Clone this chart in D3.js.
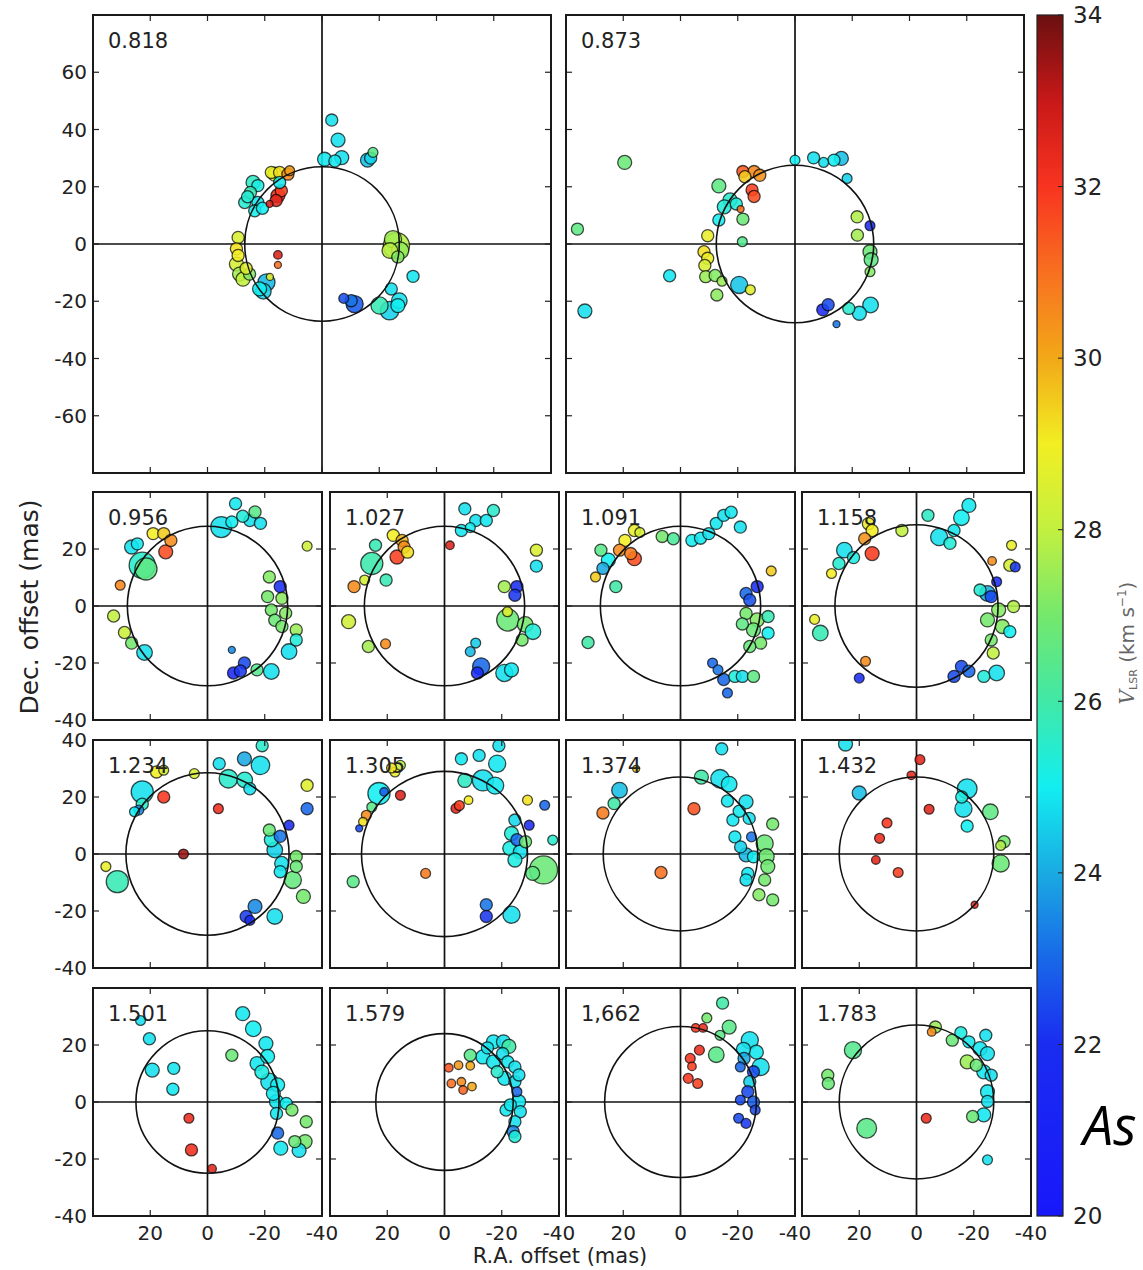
<!DOCTYPE html>
<html>
<head>
<meta charset="utf-8">
<script src="https://cdn.jsdelivr.net/npm/d3@7"></script>
<style>
  body { margin: 0; background: #fff; }
  svg { display: block; font-family: "DejaVu Sans", sans-serif; }
</style>
</head>
<body>
<svg id="chart" width="1143" height="1270"></svg>
<script>
// epoch labels, one panel each
const epochs = ["0.818", "0.873", "0.956", "1.027", "1.091", "1.158", "1.234", "1.305",
                "1.374", "1.432", "1.501", "1.579", "1,662", "1.783"];
// radius of the fitted ring (mas) for each epoch
const ringRadius = [27, 27.5, 28, 28, 28, 28.5, 28.5, 29, 27, 27, 25, 24, 26.5, 27];

// colour bar (V_LSR, km/s)
const velStops = [20, 22, 23, 24, 25, 26, 27, 28, 29, 30, 31, 32, 33, 34];
const velColors = ["#1818fa", "#1a2cf0", "#1868e8", "#1aaae2", "#12eef0", "#40e8a6", "#74e86c",
                   "#c2f040", "#f2ee22", "#f2a818", "#f87020", "#f83420", "#c81818", "#6a1010"];
const colorTicks = [20, 22, 24, 26, 28, 30, 32, 34];

// tick labels
const bigTicks = [60, 40, 20, 0, -20, -40, -60];
const rowTickLabels = [[20, 0, -20, -40], [40, 20, 0, -20, -40], [20, 0, -20, -40]];
const xTickLabels = [20, 0, -20, -40];

// spots: [R.A. offset, Dec. offset, V_LSR, relative flux]
const spots0818 = [
  [-3.4, 43.3, 24.8, 3], [-5.6, 36.3, 24.8, 4], [-6.9, 30.2, 24.8, 4], [-4.5, 29.0, 24.9, 3],
  [-0.9, 29.6, 24.9, 4], [-15.9, 29.3, 24.3, 4], [-17.8, 32.0, 26.5, 2], [-17, 30, 24.6, 3],
  [16.5, 24.4, 29.0, 4], [17.7, 25.0, 28.8, 3], [14.8, 25.0, 29.2, 3], [11.9, 24.4, 30.6, 3],
  [11.3, 25.6, 30.2, 2], [24.1, 21.5, 25.6, 4], [22.4, 20.4, 25.2, 3], [27.0, 14.5, 25.4, 3],
  [22.4, 14.5, 24.9, 3], [23.5, 11.6, 25.1, 3], [25, 18, 25.8, 3], [15.4, 16.9, 32.3, 4],
  [14.2, 18.6, 31.8, 3], [16.0, 15.2, 32.5, 3], [18.3, 14.0, 32.8, 1], [14.8, 21.5, 24.9, 3],
  [29.3, 2.3, 28.5, 3], [29.9, -1.7, 29.2, 3], [29.3, -4, 29.0, 3], [29.9, -7, 28.4, 4],
  [28.8, -10.5, 27.6, 4], [27.6, -12.3, 28.0, 4], [25.3, -10.5, 27.2, 3], [19.4, -13.4, 24.2, 6],
  [21.8, -15.7, 25.0, 4], [18.2, -11.5, 28.8, 1], [15.4, -3.8, 32.6, 1.5], [15.4, -7.3, 31.0, 1],
  [-26, -0.6, 27.8, 14], [-24.8, 1.7, 27.6, 6], [-27.3, -2.3, 27.4, 6], [-23.7, -2.3, 27.9, 5],
  [-26.5, -4.5, 27.2, 3], [-31.8, -11.3, 24.9, 3], [-7.6, -19, 22.6, 2], [-11.4, -21, 22.8, 6],
  [-10.2, -19.8, 23.2, 3], [-24.2, -15.7, 24.8, 3], [-20.1, -21.5, 25.8, 6], [-23.6, -23.3, 24.6, 7],
  [-27.0, -19.8, 24.8, 5], [-26.5, -21.5, 25.0, 4], [26.5, -8.5, 28.6, 3], [20.5, -16.5, 24.6, 5],
  [26.0, 16.5, 25.4, 3], [20.8, 12.5, 25.0, 3]
];
const spots0873 = [
  [59.5, 28.5, 26.8, 4], [76, 5.2, 26.6, 3], [73.4, -23.4, 24.8, 4], [43.8, -11.1, 24.9, 3],
  [26.6, 20.3, 26.6, 4], [18.2, 25.3, 31.4, 3], [14.3, 25.3, 30.6, 3], [17.5, 23.5, 29.5, 3],
  [12.3, 24, 30.4, 3], [15.0, 18.9, 31.8, 3], [14.3, 16.6, 31.6, 3], [22.7, 15.4, 25.5, 4],
  [24.7, 13, 25.3, 4], [19, 12.2, 31.0, 1], [20.5, 14, 25.3, 3], [26.6, 8.4, 25.0, 3],
  [18.2, 8.7, 26.8, 3], [18.4, 0.8, 26.4, 2], [30.5, 2.9, 28.8, 3], [31.8, -2.7, 29.2, 3],
  [30.5, -5.0, 28.9, 3], [31.5, -7.5, 28.5, 3], [31.2, -11.4, 27.5, 3], [27.9, -11, 27.2, 3],
  [25.5, -13, 27.5, 2], [27.3, -17.8, 27.3, 3], [19.5, -14.3, 24.4, 6], [15.6, -16, 28.6, 2],
  [0, 29.3, 25.0, 2], [-6.5, 30.1, 24.8, 3], [-10, 28.5, 24.8, 2], [-13.6, 29.3, 25.0, 3],
  [-16.2, 29.9, 24.3, 4], [-18.2, 22.9, 24.6, 2], [-21.7, 9.5, 27.8, 3], [-26.2, 6.4, 22.0, 2],
  [-21.8, 3.1, 27.6, 3], [-26.2, -2.7, 26.8, 4], [-26.6, -5.5, 26.6, 4], [-26.2, -9.7, 27.2, 2],
  [-9.7, -23.0, 21.8, 3], [-11.6, -21.2, 22.5, 3], [-18.8, -22.5, 25.5, 3], [-22.5, -24.2, 24.8, 4],
  [-26.4, -21.3, 24.8, 5], [-14.5, -28, 23.2, 1]
];
const spots0956 = [
  [22.8, 14.3, 25.5, 14], [21.5, 13.0, 26.6, 10], [26.5, 20.7, 24.8, 4], [24.5, 21.8, 24.9, 3],
  [19.0, 25.4, 29.0, 3], [15.3, 25.4, 29.5, 3], [12.8, 23.0, 30.5, 3], [14.6, 19.0, 31.6, 4],
  [30.5, 7.3, 30.6, 2], [32.8, -3.5, 28.0, 3], [29.0, -9.3, 28.2, 3], [26.5, -13.0, 27.0, 3],
  [22.0, -16.3, 24.8, 5], [-4.8, 27.7, 24.8, 9], [-9.8, 35.9, 24.9, 3], [-8.5, 29.5, 25.0, 3],
  [-14.8, 30.0, 24.8, 3], [-18.5, 29.0, 24.8, 3], [-16.6, 33.0, 26.5, 3], [-12.3, 31.5, 25.3, 3],
  [-34.8, 21.0, 28.2, 2], [-21.6, 10.2, 27.2, 3], [-25.4, 6.8, 22.0, 3], [-21.0, 3.3, 27.0, 3],
  [-26.0, 2.7, 27.3, 3], [-22.3, -1.4, 27.0, 3], [-27.3, -2.5, 27.2, 3], [-23.5, -5, 26.8, 3],
  [-26.0, -7.2, 27.0, 3], [-31.0, -8.4, 27.5, 3], [-31.0, -11.9, 25.3, 3], [-28.5, -16.0, 24.8, 5],
  [-8.5, -15.4, 23.5, 1], [-12.9, -20.0, 22.5, 3], [-9.1, -23.5, 21.6, 3], [-11.5, -22.8, 22.2, 3],
  [-17.3, -22.4, 26.4, 3], [-22.3, -23.0, 24.8, 5]
];
const spots1027 = [
  [-7.1, 34.1, 24.8, 3], [-5.9, 26.5, 24.9, 3], [-10.9, 30.0, 24.8, 3], [-14.6, 30.0, 24.9, 3],
  [-17.1, 33.5, 25.5, 3], [-9.0, 27.5, 25.0, 2], [-1.9, 21.3, 32.6, 1.5], [17.9, 24.8, 29.0, 3],
  [14.8, 23.0, 29.8, 3], [14.1, 20.7, 30.5, 3], [16.6, 17.2, 31.8, 4], [12.9, 18.9, 29.2, 3],
  [24.1, 21.3, 25.8, 3], [25.4, 14.9, 25.9, 10], [20.4, 9.1, 25.8, 3], [27.9, 9.1, 28.4, 2],
  [31.6, 6.8, 30.5, 3], [33.5, -5.5, 28.3, 4], [26.6, -14.2, 27.6, 3], [20.6, -13.3, 30.5, 2],
  [-32.1, 19.6, 28.5, 3], [-32.1, 14.0, 24.8, 3], [-20.9, 6.8, 27.6, 3], [-25.3, 6.8, 22.0, 3],
  [-24.6, 3.8, 22.2, 3], [-22.1, -4.9, 26.8, 10], [-28.2, -6.5, 27.0, 5], [-30.9, -9.0, 25.3, 5],
  [-27.1, -11.9, 27.0, 3], [-22.0, -2.0, 28.6, 2], [-10.9, -13.0, 24.5, 2], [-9.0, -16.0, 24.2, 2],
  [-12.8, -21.2, 23.0, 6], [-11.5, -23.5, 21.8, 3], [-20.9, -23.5, 24.8, 6], [-23.4, -22.4, 24.9, 4]
];
const spots1091 = [
  [16.1, 26.5, 28.8, 3], [14.2, 25.8, 28.4, 2], [19.4, 23.0, 29.0, 3], [21.3, 19.6, 30.5, 3],
  [16.1, 16.6, 31.6, 4], [17.4, 18.4, 30.8, 3], [27.8, 19.6, 26.5, 3], [25.2, 16.1, 25.0, 4],
  [27.1, 13.2, 24.0, 3], [29.7, 10.2, 29.5, 2], [22.6, 6.8, 26.0, 3], [32.3, -12.8, 26.0, 3],
  [6.4, 24.4, 27.0, 3], [2.5, 23.6, 26.2, 3], [-4.0, 23.0, 25.0, 3], [-7.0, 23.8, 24.9, 3],
  [-9.9, 25.4, 24.8, 3], [-12.5, 29.0, 24.9, 3], [-15.1, 31.8, 24.8, 3], [-17.7, 32.9, 24.9, 3],
  [-20.9, 27.7, 24.8, 3], [-31.7, 12.3, 29.5, 2], [-26.8, 6.8, 22.0, 3], [-22.9, 4.4, 23.0, 3],
  [-24.2, 2.1, 22.6, 3], [-22.9, -2.6, 27.0, 3], [-26.8, -4.9, 27.2, 4], [-30.6, -3.7, 25.8, 3],
  [-25.5, -8.4, 26.8, 4], [-30.6, -9.5, 25.0, 3], [-28.0, -13.0, 27.0, 3], [-24.2, -14.2, 26.8, 3],
  [-21.6, -6.3, 26.6, 3], [-11.2, -20.0, 23.0, 2], [-13.1, -22.4, 23.2, 2], [-15.1, -25.8, 23.0, 3],
  [-16.4, -30.5, 23.0, 2], [-19.0, -24.7, 25.3, 3], [-21.6, -24.7, 24.8, 3], [-25.5, -24.7, 26.6, 3]
];
const spots1158 = [
  [16.8, 28.9, 28.8, 3], [15.5, 26.5, 29.0, 3], [18.1, 23.6, 30.4, 3], [15.5, 18.4, 31.9, 4],
  [25.2, 19.6, 24.8, 5], [27.1, 14.9, 25.4, 3], [29.7, 11.4, 29.0, 2], [22.0, 17.0, 25.2, 3],
  [5.1, 26.5, 28.0, 3], [35.6, -4.7, 28.8, 2], [33.6, -9.5, 25.8, 5], [17.8, -19.4, 30.5, 2],
  [20.0, -25.3, 22.0, 2], [-4.0, 31.8, 25.6, 3], [-7.9, 24.2, 24.8, 6], [-13.1, 26.5, 24.9, 3],
  [-18.3, 35.3, 24.9, 4], [-15.7, 31.0, 25.0, 5], [-11.7, 22.0, 25.3, 3], [-33.2, 21.3, 28.8, 2],
  [-26.4, 15.8, 30.5, 1.5], [-32.6, 14.3, 28.4, 3], [-34.5, 13.7, 22.2, 2], [-28.0, 8.5, 22.0, 2],
  [-24.8, 4.4, 24.0, 5], [-22.2, 5.6, 25.4, 3], [-26.1, 3.3, 22.5, 3], [-28.7, -1.4, 27.2, 4],
  [-33.9, -0.2, 27.8, 3], [-24.8, -4.9, 27.0, 4], [-30.0, -7.2, 27.2, 4], [-32.6, -9.0, 25.0, 3],
  [-26.1, -11.9, 27.0, 3], [-26.8, -16.5, 28.0, 3], [-15.7, -21.2, 22.5, 3], [-13.1, -24.7, 22.5, 3],
  [-18.3, -22.9, 23.0, 3], [-23.5, -24.7, 25.3, 3], [-28.0, -23.5, 24.8, 5]
];
const spots1234 = [
  [17.8, 28.8, 29.0, 3], [15.3, 29.4, 28.5, 2], [4.6, 28.2, 28.5, 2], [22.8, 21.8, 24.8, 10],
  [24.0, 15.4, 23.5, 2], [25.5, 14.8, 25.0, 2], [22.8, 17.5, 25.5, 3], [15.3, 20.0, 32.0, 3],
  [-3.8, 15.9, 32.2, 2], [8.4, 0.0, 33.5, 2], [35.5, -4.4, 28.8, 2], [31.5, -9.7, 25.8, 10],
  [-4.1, 31.7, 24.8, 3], [-12.9, 33.4, 24.0, 4], [-19.1, 38.0, 25.5, 3], [-18.5, 31.1, 24.8, 7],
  [-7.3, 26.4, 25.5, 7], [-13.0, 26.0, 25.4, 5], [-14.8, 22.9, 24.8, 3], [-34.8, 24.1, 28.6, 3],
  [-34.8, 15.9, 23.0, 3], [-28.5, 10.1, 22.0, 2], [-21.6, 8.4, 26.8, 3], [-22.3, 5.0, 25.3, 4],
  [-25.4, 6.2, 23.2, 3], [-23.5, 1.4, 24.6, 5], [-25.9, -3.3, 24.8, 4], [-25.4, -6.2, 24.9, 3],
  [-31.0, -0.9, 27.0, 3], [-31.0, -4.4, 26.8, 3], [-29.8, -9.1, 26.7, 6], [-33.5, -14.9, 27.0, 4],
  [-16.6, -18.4, 23.5, 4], [-13.5, -21.9, 22.3, 3], [-14.8, -23.3, 21.8, 2], [-23.5, -21.9, 24.8, 5]
];
const spots1305 = [
  [17.3, 28.8, 28.8, 2], [15.4, 31.1, 28.0, 2], [18.5, 30.2, 29.2, 2], [22.9, 21.2, 25.0, 10],
  [21.1, 21.8, 22.8, 1.5], [15.4, 20.6, 32.6, 2], [25.4, 16.5, 26.5, 2], [27.3, 13.6, 30.5, 2],
  [28.5, 11.3, 29.2, 1.5], [29.8, 9.0, 22.5, 1], [31.9, -9.7, 26.5, 3], [6.6, -6.8, 30.8, 2],
  [-4.0, 16.0, 32.5, 2], [-5.2, 17.0, 31.8, 2], [-8.4, 18.9, 29.0, 1.5], [-5.9, 33.4, 24.9, 3],
  [-12.1, 34.6, 24.8, 3], [-19.0, 38.0, 24.8, 3], [-18.4, 31.7, 24.9, 6], [-7.1, 25.8, 25.6, 4],
  [-13.4, 25.8, 24.8, 9], [-17.7, 24.0, 24.9, 6], [-29.0, 18.9, 29.2, 2], [-35.0, 17.1, 23.0, 2],
  [-24.6, 11.9, 24.7, 3], [-29.6, 10.1, 22.0, 2], [-23.4, 7.2, 25.3, 4], [-25.3, 5.0, 23.0, 3],
  [-22.8, 2.0, 25.2, 4], [-26.5, 0.8, 24.8, 4], [-24.6, -2.1, 25.2, 4], [-28.3, 4.3, 26.8, 3],
  [-37.8, 4.9, 25.5, 2], [-34.6, -5.6, 26.8, 16], [-30.8, -6.8, 26.6, 4], [-14.6, -17.8, 23.2, 3],
  [-14.6, -21.9, 22.2, 3], [-23.4, -21.3, 24.8, 6]
];
const spots1374 = [
  [-14.4, 36.9, 24.8, 3], [15.5, 29.9, 29.5, 1], [21.3, 22.4, 24.3, 5], [23.2, 17.7, 26.0, 3],
  [27.1, 14.4, 30.8, 3], [-4.7, 15.9, 31.5, 3], [6.8, -6.5, 31.0, 3], [-7.3, 27.0, 26.0, 4],
  [-13.8, 26.4, 24.8, 7], [-17.0, 24.5, 24.9, 5], [-16.4, 18.6, 24.9, 3], [-22.9, 18.3, 24.8, 4],
  [-18.3, 11.9, 24.9, 3], [-24.0, 12.5, 24.8, 3], [-19.0, 6.0, 24.9, 3], [-24.8, 6.0, 23.2, 2],
  [-22.9, -0.3, 24.2, 4], [-25.5, -1.0, 25.0, 3], [-23.5, -6.8, 24.9, 3], [-22.9, -9.1, 24.8, 3],
  [-32.2, 10.5, 27.0, 3], [-29.4, 3.7, 26.8, 6], [-30.0, -0.9, 26.9, 5], [-30.5, -4.4, 26.9, 4],
  [-29.4, -9.1, 27.0, 3], [-27.4, -14.3, 27.2, 3], [-32.2, -16.1, 27.0, 3], [-20.5, 15.0, 24.9, 3],
  [-21.0, 2.5, 24.6, 3]
];
const spots1432 = [
  [24.8, 38.6, 24.8, 4], [20.0, 21.4, 24.3, 4], [-1.2, 33.1, 32.5, 2], [1.8, 27.6, 32.4, 1.5],
  [-4.4, 15.7, 32.5, 2], [10.3, 10.9, 32.0, 2], [12.9, 5.5, 32.3, 2], [14.2, -2.1, 32.5, 1.5],
  [6.4, -6.5, 31.8, 2], [-20.3, -17.8, 32.3, 1], [-17.7, 22.9, 24.8, 8], [-16.4, 15.9, 24.8, 6],
  [-17.7, 9.8, 25.0, 3], [-15.8, 20.0, 25.2, 3], [-25.8, 14.8, 26.6, 5], [-30.6, 4.3, 27.0, 3],
  [-29.4, 3.0, 27.8, 2], [-29.4, -3.3, 26.8, 6]
];
const spots1501 = [
  [23.4, 28.6, 24.8, 2], [20.3, 22.2, 24.8, 3], [19.3, 11.2, 24.8, 4], [11.8, 11.8, 24.9, 3],
  [12.1, 4.5, 24.9, 3], [6.5, -5.7, 32.3, 2], [5.6, -16.8, 32.2, 3], [-1.6, -23.4, 32.5, 1.5],
  [-8.5, 16.4, 26.8, 3], [-12.3, 31.0, 24.9, 4], [-16.0, 25.7, 25.0, 5], [-20.4, 20.5, 24.9, 4],
  [-17.3, 13.5, 24.9, 4], [-21.0, 16.0, 25.0, 4], [-21.6, 7.1, 24.8, 6], [-24.5, 6.0, 25.0, 4],
  [-24.1, 0.1, 24.9, 4], [-27.5, -0.5, 25.0, 3], [-24.1, -4.0, 24.9, 3], [-24.5, -10.9, 23.0, 3],
  [-29.5, -2.8, 27.0, 3], [-34.5, -6.9, 27.0, 3], [-34.1, -13.9, 27.0, 4], [-30.5, -13.9, 26.8, 3],
  [-25.6, -16.2, 24.9, 4], [-32.0, -17.0, 24.8, 4], [-19.0, 10.5, 25.2, 4], [-23.0, 3.0, 24.9, 4]
];
const spots1579 = [
  [-1.5, 12.0, 31.5, 1.5], [-4.9, 12.9, 30.3, 1.5], [-9.0, 12.7, 30.0, 1.5], [-2.4, 6.5, 31.0, 1.5],
  [-5.9, 7.1, 30.5, 1.5], [-6.5, 4.2, 31.2, 1.5], [-9.6, 5.4, 30.0, 1.5], [-9.0, 16.4, 26.5, 3],
  [-13.4, 15.8, 24.9, 4], [-17.1, 21.1, 24.9, 4], [-20.6, 21.1, 24.8, 4], [-22.5, 19.5, 26.0, 4],
  [-17.1, 14.1, 24.9, 4], [-20.3, 17.0, 24.8, 3], [-22.1, 14.1, 24.9, 3], [-24.6, 12.3, 24.8, 3],
  [-21.0, 8.3, 24.9, 4], [-24.6, 7.1, 24.8, 3], [-25.3, 3.6, 23.0, 2], [-25.9, 0.1, 24.9, 4],
  [-21.5, -2.8, 24.9, 3], [-26.5, -3.4, 24.8, 3], [-24.6, -6.9, 24.8, 3], [-24.0, -10.4, 23.5, 3],
  [-24.6, -12.1, 25.3, 3], [-18.4, 10.6, 25.5, 3], [-15.0, 19.0, 24.9, 3], [-26.0, 9.5, 24.8, 3],
  [-23.0, -1.0, 24.9, 3]
];
const spots1662 = [
  [-14.7, 34.7, 26.0, 3], [-9.2, 29.5, 27.0, 2], [-5.3, 26.0, 32.0, 1.5], [-7.9, 26.0, 32.3, 1.5],
  [-13.8, 23.4, 26.5, 2], [-17.0, 26.3, 26.5, 4], [-12.5, 16.6, 26.5, 5], [-6.6, 18.2, 32.2, 2],
  [-3.4, 15.3, 32.0, 2], [-4.0, 12.5, 31.8, 1.5], [-2.7, 8.3, 32.0, 2], [-6.0, 6.5, 31.8, 2],
  [-24.2, 21.7, 24.8, 6], [-26.5, 17.5, 24.9, 4], [-28.0, 12.3, 24.8, 6], [-22.2, 15.3, 24.0, 3],
  [-20.9, 12.3, 23.0, 2], [-25.5, 10.6, 22.5, 3], [-24.2, 7.1, 24.6, 3], [-23.5, 3.6, 22.5, 3],
  [-20.9, 0.7, 22.5, 2], [-25.5, 0.0, 22.8, 3], [-26.1, -2.8, 22.5, 2], [-20.3, -5.7, 22.5, 2],
  [-22.9, -7.5, 22.2, 2], [-22.0, 18.5, 24.8, 4]
];
const spots1783 = [
  [22.2, 18.2, 26.4, 6], [31.0, 9.4, 27.0, 3], [30.8, 6.5, 26.8, 3], [17.4, -9.2, 26.5, 8],
  [-3.4, -5.7, 32.3, 2], [-6.6, 26.3, 27.5, 3], [-5.3, 24.6, 30.5, 1.5], [-12.5, 21.7, 26.8, 3],
  [-15.5, 24.3, 25.2, 3], [-18.3, 21.1, 24.9, 3], [-24.2, 23.4, 24.8, 3], [-22.2, 18.7, 24.9, 4],
  [-24.8, 17.0, 24.8, 4], [-17.7, 14.1, 27.5, 4], [-20.9, 12.9, 26.8, 3], [-23.5, 10.6, 24.9, 4],
  [-26.1, 9.4, 24.8, 3], [-24.8, 3.6, 24.9, 4], [-24.8, 0.2, 24.8, 3], [-19.6, -5.1, 26.8, 3],
  [-23.5, -4.5, 24.9, 4], [-24.8, -20.3, 24.8, 2]
];

const spotSets = [spots0818, spots0873, spots0956, spots1027, spots1091, spots1158, spots1234,
                  spots1305, spots1374, spots1432, spots1501, spots1579, spots1662, spots1783];

// layout
const svg = d3.select("#chart");
const colX = [93, 330, 566, 802];
const rowY = [492, 740, 988];
const tickLen = 6;

const color = d3.scaleLinear().domain(velStops).range(velColors).clamp(true);
const rScale = d3.scaleSqrt().domain([0, 16]).range([0, 14]);

const panels = epochs.map((label, i) => {
  if (i < 2) return { i, label, x0: [93, 566][i], y0: 15, w: 458, h: 458, lim: 80, col: i, row: -1 };
  const k = i - 2;
  return { i, label, x0: colX[k % 4], y0: rowY[Math.floor(k / 4)], w: 229, h: 228, lim: 40,
           col: k % 4, row: Math.floor(k / 4) };
});

const defs = svg.append("defs");

panels.forEach(p => {
  const x = d3.scaleLinear().domain([p.lim, -p.lim]).range([p.x0, p.x0 + p.w]);
  const y = d3.scaleLinear().domain([p.lim, -p.lim]).range([p.y0, p.y0 + p.h]);
  const g = svg.append("g");

  defs.append("clipPath").attr("id", "clip" + p.i)
    .append("rect").attr("x", p.x0).attr("y", p.y0).attr("width", p.w).attr("height", p.h);

  // zero lines
  g.append("line").attr("x1", x(0)).attr("x2", x(0)).attr("y1", p.y0).attr("y2", p.y0 + p.h)
    .attr("stroke", "#111").attr("stroke-width", 1.7);
  g.append("line").attr("x1", p.x0).attr("x2", p.x0 + p.w).attr("y1", y(0)).attr("y2", y(0))
    .attr("stroke", "#111").attr("stroke-width", 1.7);

  // maser spots
  const pts = spotSets[p.i].slice().sort((a, b) => b[3] - a[3]);
  g.append("g").attr("clip-path", `url(#clip${p.i})`)
    .selectAll("circle")
    .data(pts)
    .join("circle")
      .attr("cx", d => x(d[0]))
      .attr("cy", d => y(d[1]))
      .attr("r", d => rScale(d[3]))
      .attr("fill", d => color(d[2]))
      .attr("fill-opacity", 0.88)
      .attr("stroke", "#000")
      .attr("stroke-opacity", 0.7)
      .attr("stroke-width", 1.3);

  // ring
  const rr = ringRadius[p.i];
  g.append("ellipse")
    .attr("cx", x(0)).attr("cy", y(0))
    .attr("rx", Math.abs(x(rr) - x(0))).attr("ry", Math.abs(y(rr) - y(0)))
    .attr("fill", "none").attr("stroke", "#111").attr("stroke-width", 1.6);

  // ticks on all four sides, pointing inward
  const tv = d3.range(-p.lim + 20, p.lim, 20);
  const tk = g.append("g").attr("stroke", "#222").attr("stroke-width", 1.2);
  tv.forEach(t => {
    tk.append("line").attr("x1", x(t)).attr("x2", x(t)).attr("y1", p.y0).attr("y2", p.y0 + tickLen);
    tk.append("line").attr("x1", x(t)).attr("x2", x(t)).attr("y1", p.y0 + p.h).attr("y2", p.y0 + p.h - tickLen);
    tk.append("line").attr("y1", y(t)).attr("y2", y(t)).attr("x1", p.x0).attr("x2", p.x0 + tickLen);
    tk.append("line").attr("y1", y(t)).attr("y2", y(t)).attr("x1", p.x0 + p.w).attr("x2", p.x0 + p.w - tickLen);
  });

  // frame
  g.append("rect").attr("x", p.x0).attr("y", p.y0).attr("width", p.w).attr("height", p.h)
    .attr("fill", "none").attr("stroke", "#1a1a1a").attr("stroke-width", 2);

  // epoch label
  g.append("text").attr("x", p.x0 + 15).attr("y", p.y0 + 33)
    .attr("font-size", 21).attr("fill", "#222").text(p.label);

  // y tick labels on the left column
  if (p.col === 0) {
    const labs = p.row < 0 ? bigTicks : rowTickLabels[p.row];
    g.selectAll("text.yt").data(labs).join("text").attr("class", "yt")
      .attr("x", p.x0 - 6).attr("y", d => y(d)).attr("dy", "0.36em")
      .attr("text-anchor", "end").attr("font-size", 20).attr("fill", "#222")
      .text(d => d);
  }
  // x tick labels on the bottom row
  if (p.row === 2) {
    g.selectAll("text.xt").data(xTickLabels).join("text").attr("class", "xt")
      .attr("x", d => x(d)).attr("y", p.y0 + p.h + 24)
      .attr("text-anchor", "middle").attr("font-size", 20).attr("fill", "#222")
      .text(d => d);
  }
});

// colour bar
const cbX = 1037, cbW = 26, cbTop = 15, cbBot = 1216;
const cy = d3.scaleLinear().domain([20, 34]).range([cbBot, cbTop]);
const grad = defs.append("linearGradient").attr("id", "cbar")
  .attr("x1", 0).attr("y1", 0).attr("x2", 0).attr("y2", 1);
grad.selectAll("stop").data(d3.range(34, 19.99, -0.25)).join("stop")
  .attr("offset", d => (34 - d) / 14)
  .attr("stop-color", d => color(d));
svg.append("rect").attr("x", cbX).attr("y", cbTop).attr("width", cbW).attr("height", cbBot - cbTop)
  .attr("fill", "url(#cbar)").attr("stroke", "#222").attr("stroke-width", 1.2);
const cAxis = svg.append("g");
colorTicks.forEach(t => {
  cAxis.append("line").attr("x1", cbX + cbW - 5).attr("x2", cbX + cbW).attr("y1", cy(t)).attr("y2", cy(t))
    .attr("stroke", "#222").attr("stroke-width", 1);
  cAxis.append("text").attr("x", cbX + cbW + 10).attr("y", cy(t)).attr("dy", "0.36em")
    .attr("font-size", 23).attr("fill", "#222").text(t);
});

// colour bar title
const ct = svg.append("text")
  .attr("transform", "translate(1134,643) rotate(-90)")
  .attr("text-anchor", "middle").attr("font-size", 20).attr("fill", "#666");
ct.append("tspan").attr("font-style", "italic").attr("font-family", "DejaVu Serif").text("V");
ct.append("tspan").attr("font-size", 11).attr("dy", 3).text("LSR");
ct.append("tspan").attr("dy", -3).text(" (km s");
ct.append("tspan").attr("font-size", 12).attr("dy", -8).text("−1");
ct.append("tspan").attr("dy", 8).text(")");

// axis titles
svg.append("text").attr("transform", "translate(38,607) rotate(-90)")
  .attr("text-anchor", "middle").attr("font-size", 25).attr("fill", "#222")
  .text("Dec. offset (mas)");
svg.append("text").attr("x", 560).attr("y", 1263)
  .attr("text-anchor", "middle").attr("font-size", 21).attr("fill", "#222")
  .text("R.A. offset (mas)");

// corner tag
svg.append("text").attr("x", 1083).attr("y", 1145)
  .attr("font-family", "Open Sans").attr("font-style", "italic")
  .attr("font-size", 54).attr("fill", "#000").text("As");
</script>
</body>
</html>
